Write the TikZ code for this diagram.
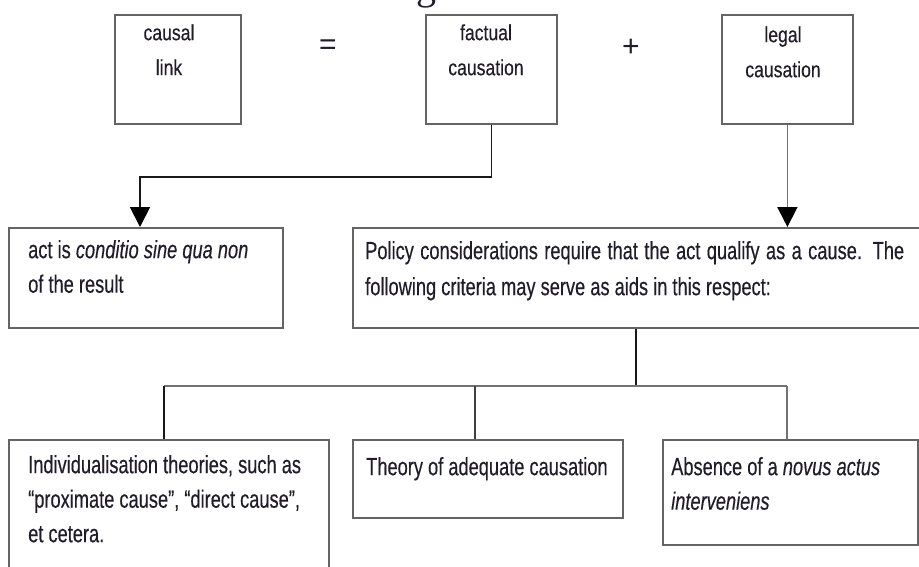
\documentclass[tikz,border=0pt]{standalone}
\usepackage{fontspec}
\setmainfont{Liberation Sans}[FakeStretch=0.73,FakeBold=0.3]
\newfontfamily\topfont{Liberation Sans}[FakeStretch=0.8,FakeBold=0.3]
\newfontfamily\serifb{Liberation Serif}
\newfontfamily\plainsans{Liberation Sans}
\usetikzlibrary{arrows.meta}
\definecolor{boxc}{RGB}{100,100,100}
\definecolor{darkc}{RGB}{25,25,25}
\definecolor{lightc}{RGB}{115,115,115}
\definecolor{txt}{RGB}{32,28,42}
\begin{document}
\begin{tikzpicture}[x=1pt,y=-1pt,
  box/.style={draw=boxc,line width=1.8pt,inner sep=0pt,anchor=north west,fill=white},
  txtnode/.style={inner sep=0pt,anchor=north west,align=left,text=txt,font=\fontsize{25}{34.5}\selectfont},
  toptxt/.style={inner sep=0pt,anchor=north,align=center,text=txt,font=\topfont\fontsize{22}{35}\selectfont},
  arr/.style={-{Triangle[width=20pt,length=20pt,color=black]}},
  conn/.style={line width=1.8pt},
  sym/.style={text=txt,inner sep=0pt,font=\plainsans\fontsize{30}{30}\selectfont}
]
\useasboundingbox (0,0) rectangle (919,566);
\clip (0,0) rectangle (919,566);
\fill[white] (0,0) rectangle (919,566);

% cut-off heading fragment
\node[font=\serifb\fontsize{40}{40}\selectfont,text=txt,anchor=base,inner sep=0pt] (ttl) at (426,-1) {g};

% top row
\node[box,minimum width=126pt,minimum height=109pt] (causal) at (114,14) {};
\node[box,minimum width=131pt,minimum height=109pt] (fact) at (425,14) {};
\node[box,minimum width=131pt,minimum height=109pt] (legal) at (721,14) {};
\node[toptxt] (causalT) at (169,23) {\rule{0pt}{17pt}causal\\link};
\node[toptxt] (factT) at (486,23) {\rule{0pt}{17pt}factual\\causation};
\node[toptxt] (legalT) at (783,25) {\rule{0pt}{17pt}legal\\causation};
\node[sym] (eq) at (328,47) {=};
\node[sym] (plus) at (631,48) {+};

% second row
\node[box,minimum width=274pt,minimum height=100pt] (act) at (8,227) {};
\node[box,minimum width=620pt,minimum height=100pt] (pol) at (352,227) {};
\node[txtnode] (actT) at (28,239) {\rule{0pt}{19pt}act is \textit{conditio sine qua non}\\of the result};
\node[txtnode,font=\fontsize{25}{36}\selectfont] (polT) at (365,240) {\rule{0pt}{19pt}\makebox[539pt][s]{Policy considerations require that the act qualify as a cause. The}\\following criteria may serve as aids in this respect:};

% third row
\node[box,minimum width=320pt,minimum height=200pt] (ind) at (8,439) {};
\node[box,minimum width=270pt,minimum height=78pt] (theo) at (352,439) {};
\node[box,minimum width=255pt,minimum height=105pt] (abs) at (662,439) {};
\node[txtnode] (indT) at (28,454) {\rule{0pt}{19pt}Individualisation theories, such as\\“proximate cause”, “direct cause”,\\et cetera.};
\node[txtnode] (theoT) at (366,456) {\rule{0pt}{19pt}Theory of adequate causation};
\node[txtnode] (absT) at (671,456) {\rule{0pt}{19pt}Absence of a \textit{novus actus}\\\textit{interveniens}};

% connectors
\coordinate (j1) at (140,177);
\draw[conn,darkc,arr] (fact.south) |- (j1) -- (j1 |- act.north);
\draw[conn,lightc,arr] (legal.south) -- (legal.south |- pol.north);

\coordinate (s) at (636,386);
\coordinate (d1) at (164,386);
\coordinate (d2) at (475,386);
\coordinate (d3) at (787,386);
\draw[conn,darkc] (s |- pol.south) -- (s);
\draw[conn,lightc] (d1) -- (d3);
\draw[conn,darkc] (d1) -- (d1 |- ind.north);
\draw[conn,black!75] (d2) -- (d2 |- theo.north);
\draw[conn,lightc] (d3) -- (d3 |- abs.north);
\end{tikzpicture}
\end{document}
